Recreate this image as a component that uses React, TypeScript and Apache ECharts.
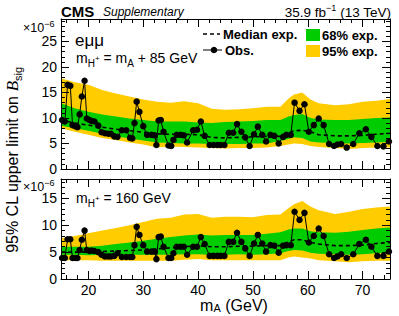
import React, { useEffect, useRef } from "react";
import * as echarts from "echarts";

// Mass points of the scan (GeV)
const massPoints = [15.2, 15.7, 16.2, 16.7, 17.1, 17.6, 18.0, 18.4, 18.8, 19.3, 19.7, 20.2, 20.6, 21.1, 21.8, 22.4, 23.0, 23.6, 24.1, 24.7, 25.3, 26.1, 26.9, 27.6, 28.0, 28.4, 28.8, 29.3, 30.0, 30.7, 31.5, 32.1, 32.4, 32.8, 33.2, 33.7, 34.6, 35.1, 35.5, 36.1, 36.8, 37.4, 38.0, 39.1, 39.8, 40.5, 41.2, 42.1, 42.8, 43.5, 44.1, 44.8, 45.6, 46.4, 47.1, 47.9, 48.6, 49.4, 50.2, 50.9, 51.7, 52.4, 53.2, 53.9, 54.7, 55.5, 56.1, 56.9, 57.6, 58.5, 59.4, 60.2, 61.1, 62.0, 62.9, 63.9, 64.8, 65.4, 66.1, 67.1, 68.3, 69.4, 70.6, 71.6, 72.7, 73.8, 74.8];

// Observed limits (x 1e-6), top panel (mH+ = mA + 85 GeV)
const obsTop = [9.6, 9.3, 16.5, 16.3, 8.6, 8.4, 8.2, 10.7, 14.2, 17.3, 9.9, 9.6, 9.4, 9.3, 8.5, 7.2, 7.0, 6.9, 6.9, 6.4, 6.3, 7.6, 7.6, 6.1, 6.0, 9.0, 13.2, 11.2, 8.4, 6.7, 6.7, 6.6, 4.7, 9.5, 9.6, 7.3, 4.6, 4.5, 5.7, 6.7, 6.7, 6.6, 5.2, 7.6, 7.7, 9.3, 6.5, 4.7, 4.7, 4.7, 4.7, 4.7, 7.1, 7.1, 8.8, 7.3, 6.2, 4.5, 6.8, 8.3, 6.7, 5.4, 6.7, 6.5, 5.0, 6.3, 6.7, 6.7, 13.0, 11.4, 12.7, 7.3, 8.6, 9.9, 8.6, 4.9, 4.5, 4.8, 4.9, 4.2, 4.9, 7.0, 7.8, 6.3, 4.5, 4.4, 5.4];

// Observed limits (x 1e-6), bottom panel (mH+ = 160 GeV)
const obsBottom = [3.9, 3.9, 7.4, 7.4, 3.9, 3.9, 3.9, 5.4, 7.3, 9.0, 5.4, 5.2, 5.3, 5.2, 5.0, 4.5, 4.2, 4.2, 4.2, 4.3, 4.8, 4.1, 4.1, 4.1, 4.1, 6.3, 9.7, 8.2, 6.3, 5.1, 5.1, 5.1, 3.7, 7.8, 7.9, 6.0, 3.9, 3.9, 4.8, 6.0, 6.0, 6.0, 4.5, 6.0, 6.0, 7.8, 6.5, 4.3, 4.3, 4.3, 4.3, 4.3, 6.9, 6.9, 8.6, 6.9, 5.7, 4.3, 6.6, 8.2, 6.6, 5.1, 6.3, 6.2, 4.9, 6.2, 6.3, 6.3, 12.5, 11.0, 12.3, 6.8, 8.0, 9.4, 8.0, 4.6, 3.9, 4.2, 4.6, 3.9, 4.6, 6.5, 7.3, 6.0, 4.3, 4.3, 5.1];

// Expected limit bands (x 1e-6)
const bandMass = [15, 17.5, 20, 22.5, 25, 27.5, 30, 32.5, 35, 37.5, 40, 42.5, 45, 47.5, 50, 52.5, 55, 56.5, 57.5, 59, 60.5, 62, 65, 67.5, 70, 72.5, 75];

const topUp95 = [17.8, 17.0, 16.5, 15.5, 14.8, 14.2, 13.6, 13.2, 13.0, 13.3, 12.9, 11.8, 11.6, 11.7, 11.9, 12.2, 12.2, 13.8, 14.6, 15.0, 13.6, 12.9, 12.5, 12.7, 13.2, 13.4, 13.7];
const topUp68 = [12.9, 11.9, 11.2, 10.7, 10.3, 9.9, 9.6, 9.3, 9.3, 9.3, 9.1, 9.0, 9.2, 9.3, 9.4, 9.6, 9.6, 10.3, 10.6, 10.8, 10.0, 9.7, 9.6, 9.6, 9.8, 10.0, 10.1];
const topMedian = [9.6, 9.0, 8.6, 8.2, 7.8, 7.5, 7.2, 6.9, 6.8, 6.8, 6.7, 6.2, 6.1, 6.2, 6.3, 6.4, 6.4, 7.1, 7.5, 7.6, 7.3, 6.7, 6.5, 6.5, 6.6, 6.8, 7.0];
const topLo68 = [8.5, 8.0, 7.5, 6.9, 6.4, 6.0, 5.6, 5.2, 5.1, 5.0, 5.0, 4.9, 4.9, 4.9, 5.0, 5.0, 5.5, 5.9, 6.2, 6.1, 5.4, 5.2, 5.1, 5.0, 5.1, 5.2, 5.3];
const topLo95 = [8.0, 7.3, 6.7, 6.1, 5.7, 5.2, 4.8, 4.2, 4.4, 4.3, 4.2, 4.1, 4.0, 4.1, 4.1, 4.2, 4.5, 4.8, 5.0, 4.9, 4.5, 4.3, 4.1, 3.9, 4.1, 4.2, 4.2];

const botUp95 = [7.6, 8.0, 8.5, 9.0, 9.5, 10.0, 10.6, 11.2, 11.4, 12.0, 12.1, 11.4, 11.6, 11.6, 11.5, 11.9, 12.0, 13.2, 13.9, 14.5, 13.5, 12.8, 12.1, 12.5, 13.0, 13.3, 13.5];
const botUp68 = [6.0, 6.0, 6.0, 6.2, 6.5, 6.8, 7.1, 7.5, 7.8, 8.1, 8.3, 8.1, 8.2, 8.2, 8.2, 8.4, 8.7, 9.2, 9.4, 9.4, 8.9, 8.7, 8.6, 8.8, 9.1, 9.4, 9.6];
const botMedian = [5.0, 5.0, 5.0, 5.1, 5.2, 5.3, 5.4, 5.6, 5.8, 6.0, 6.2, 6.0, 6.0, 6.1, 6.1, 6.2, 6.2, 6.9, 7.3, 7.3, 6.8, 6.5, 6.2, 6.2, 6.3, 6.6, 6.8];
const botLo68 = [4.5, 4.5, 4.4, 4.5, 4.5, 4.5, 4.5, 4.5, 4.5, 4.6, 4.6, 4.5, 4.5, 4.6, 4.5, 4.6, 4.8, 5.2, 5.4, 5.3, 4.9, 4.7, 4.6, 4.5, 4.6, 4.8, 4.9];
const botLo95 = [3.5, 3.5, 3.5, 3.4, 3.4, 3.4, 3.4, 3.4, 3.4, 3.6, 3.7, 3.5, 3.5, 3.5, 3.5, 3.5, 3.5, 4.0, 4.2, 4.0, 3.8, 3.5, 3.3, 3.1, 3.3, 3.4, 3.4];

const xMin = 15;
const xMax = 75;
const topYMax = 29.4;
const botYMax = 18.6;

const FONT = "'Liberation Sans', Arial, Helvetica, sans-serif";
const GREEN = "#00cc00";
const YELLOW = "#ffcc00";

function xAxisDef(grid: number, position: string, showLabels: boolean) {
  return {
    type: "value",
    gridIndex: grid,
    position,
    min: xMin,
    max: xMax,
    splitNumber: 6,
    z: 10,
    axisLine: { show: true, onZero: false, lineStyle: { color: "#000", width: 1 } },
    axisTick: { show: true, inside: true, length: 8, lineStyle: { color: "#000", width: 1 } },
    minorTick: { show: true, splitNumber: 5, length: 4, lineStyle: { color: "#000", width: 1 } },
    axisLabel: {
      show: showLabels,
      showMinLabel: false,
      showMaxLabel: false,
      color: "#000",
      fontSize: 14,
      fontFamily: FONT,
      margin: 4,
    },
    splitLine: { show: false },
    minorSplitLine: { show: false },
  };
}

function yAxisDef(grid: number, position: string, max: number, showLabels: boolean) {
  return {
    type: "value",
    gridIndex: grid,
    position,
    min: 0,
    max,
    interval: 5,
    z: 10,
    axisLine: { show: true, onZero: false, lineStyle: { color: "#000", width: 1 } },
    axisTick: { show: true, inside: true, length: 8, lineStyle: { color: "#000", width: 1 } },
    minorTick: { show: true, splitNumber: 5, length: 4, lineStyle: { color: "#000", width: 1 } },
    axisLabel: {
      show: showLabels,
      showMaxLabel: false,
      color: "#000",
      fontSize: 14,
      fontFamily: FONT,
      margin: 4,
    },
    splitLine: { show: false },
    minorSplitLine: { show: false },
  };
}

// Band drawn as one polygon through the axis scales
function bandSeries(lo: number[], hi: number[], color: string, axisIdx: number, z: number) {
  return {
    type: "custom",
    coordinateSystem: "cartesian2d",
    xAxisIndex: axisIdx,
    yAxisIndex: axisIdx,
    silent: true,
    z,
    data: bandMass.map((m, i) => [m, lo[i], hi[i]]),
    encode: { x: 0, y: [1, 2] },
    renderItem: (params: any, api: any) => {
      if (params.dataIndex !== 0) return null;
      const upper = bandMass.map((m, i) => api.coord([m, hi[i]]));
      const lower = bandMass.map((m, i) => api.coord([m, lo[i]])).reverse();
      return {
        type: "polygon",
        shape: { points: upper.concat(lower) },
        style: { fill: color, stroke: "none" },
      };
    },
  };
}

function medianSeries(vals: number[], axisIdx: number) {
  return {
    type: "line",
    xAxisIndex: axisIdx,
    yAxisIndex: axisIdx,
    data: bandMass.map((m, i) => [m, vals[i]]),
    symbol: "none",
    silent: true,
    lineStyle: { color: "#000", width: 1.6, type: [4, 3] },
    z: 4,
  };
}

function obsSeries(vals: number[], axisIdx: number) {
  return {
    type: "line",
    xAxisIndex: axisIdx,
    yAxisIndex: axisIdx,
    data: massPoints.map((m, i) => [m, vals[i]]),
    symbol: "circle",
    symbolSize: 6.5,
    silent: true,
    itemStyle: { color: "#000" },
    lineStyle: { color: "#000", width: 1 },
    z: 5,
  };
}

const subRich = {
  sub: { fontSize: 10, lineHeight: 12, verticalAlign: "bottom" },
  sup: { fontSize: 8, lineHeight: 10, verticalAlign: "middle" },
  up: { fontSize: 9, lineHeight: 10, verticalAlign: "top" },
};

function buildOption() {
  return {
    animation: false,
    backgroundColor: "#fff",
    grid: [
      { left: 61, top: 19, width: 329, height: 150 },
      { left: 61, top: 179, width: 329, height: 100 },
    ],
    xAxis: [
      xAxisDef(0, "bottom", false),
      xAxisDef(1, "bottom", true),
      xAxisDef(0, "top", false),
      xAxisDef(1, "top", false),
    ],
    yAxis: [
      yAxisDef(0, "left", topYMax, true),
      yAxisDef(1, "left", botYMax, true),
      yAxisDef(0, "right", topYMax, false),
      yAxisDef(1, "right", botYMax, false),
    ],
    series: [
      bandSeries(topLo95, topUp95, YELLOW, 0, 1),
      bandSeries(topLo68, topUp68, GREEN, 0, 2),
      medianSeries(topMedian, 0),
      obsSeries(obsTop, 0),
      bandSeries(botLo95, botUp95, YELLOW, 1, 1),
      bandSeries(botLo68, botUp68, GREEN, 1, 2),
      medianSeries(botMedian, 1),
      obsSeries(obsBottom, 1),
    ],
    graphic: [
      // Header
      { type: "text", x: 61, y: 11, style: { text: "CMS", font: `bold 15px ${FONT}`, fill: "#000", verticalAlign: "middle" } },
      { type: "text", x: 103, y: 12, style: { text: "Supplementary", font: `italic 12px ${FONT}`, fill: "#000", verticalAlign: "middle" } },
      {
        type: "text", x: 391, y: 12,
        style: {
          text: "35.9 fb{up|−1} (13 TeV)", fontSize: 13.5, fontFamily: FONT, fill: "#000",
          align: "right", verticalAlign: "middle", lineHeight: 18, rich: subRich,
        },
      },
      // x10^-6 exponent labels
      {
        type: "text", x: 23, y: 28,
        style: { text: "×10{up|−6}", fontSize: 12.5, fontFamily: FONT, fill: "#000", verticalAlign: "middle", lineHeight: 18, rich: subRich },
      },
      {
        type: "text", x: 23, y: 187,
        style: { text: "×10{up|−6}", fontSize: 12.5, fontFamily: FONT, fill: "#000", verticalAlign: "middle", lineHeight: 18, rich: subRich },
      },
      // Panel labels
      { type: "text", x: 75, y: 40, style: { text: "eμμ", fontSize: 17, fontFamily: FONT, fill: "#000", verticalAlign: "middle" } },
      {
        type: "text", x: 76, y: 58,
        style: { text: "m{sub|H}{sup|+} = m{sub|A} + 85 GeV", fontSize: 14, fontFamily: FONT, fill: "#000", verticalAlign: "middle", lineHeight: 20, rich: subRich },
      },
      {
        type: "text", x: 76, y: 198,
        style: { text: "m{sub|H}{sup|+} = 160 GeV", fontSize: 14, fontFamily: FONT, fill: "#000", verticalAlign: "middle", lineHeight: 20, rich: subRich },
      },
      // Legend
      { type: "line", shape: { x1: 203, y1: 34, x2: 220, y2: 34 }, style: { stroke: "#000", lineWidth: 1.6, lineDash: [4, 3] } },
      { type: "text", x: 223, y: 34, style: { text: "Median exp.", font: `bold 13px ${FONT}`, fill: "#000", verticalAlign: "middle" } },
      { type: "line", shape: { x1: 203, y1: 50, x2: 222, y2: 50 }, style: { stroke: "#000", lineWidth: 1 } },
      { type: "circle", shape: { cx: 214, cy: 50, r: 3.3 }, style: { fill: "#000" } },
      { type: "text", x: 225, y: 50, style: { text: "Obs.", font: `bold 13px ${FONT}`, fill: "#000", verticalAlign: "middle" } },
      { type: "rect", shape: { x: 306, y: 29, width: 14, height: 12 }, style: { fill: GREEN } },
      { type: "text", x: 322, y: 35, style: { text: "68% exp.", font: `bold 13px ${FONT}`, fill: "#000", verticalAlign: "middle" } },
      { type: "rect", shape: { x: 306, y: 45, width: 14, height: 12 }, style: { fill: YELLOW } },
      { type: "text", x: 322, y: 51, style: { text: "95% exp.", font: `bold 13px ${FONT}`, fill: "#000", verticalAlign: "middle" } },
      // Axis titles
      {
        type: "text", x: 234, y: 305,
        style: { text: "m{sub|A} (GeV)", fontSize: 16, fontFamily: FONT, fill: "#000", align: "center", verticalAlign: "middle", lineHeight: 17, rich: { sub: { fontSize: 11, lineHeight: 10, verticalAlign: "bottom" } } },
      },
      {
        type: "text", x: 12, y: 160, rotation: Math.PI / 2,
        style: {
          text: "95% CL upper limit on {b|B}{s|sig}", fontSize: 16, fontFamily: FONT, fill: "#000",
          align: "center", verticalAlign: "middle", lineHeight: 22,
          rich: {
            b: { fontSize: 17, fontFamily: "'Liberation Serif', serif", fontStyle: "italic", lineHeight: 22 },
            s: { fontSize: 11, lineHeight: 12, verticalAlign: "bottom" },
          },
        },
      },
    ],
  };
}

export default function App() {
  const ref = useRef<HTMLDivElement>(null);
  useEffect(() => {
    if (!ref.current) return;
    const chart = echarts.init(ref.current, undefined, { renderer: "svg" });
    chart.setOption(buildOption() as any);
    return () => chart.dispose();
  }, []);
  return <div ref={ref} style={{ position: "absolute", left: 0, top: 0, width: 399, height: 316 }} />;
}
